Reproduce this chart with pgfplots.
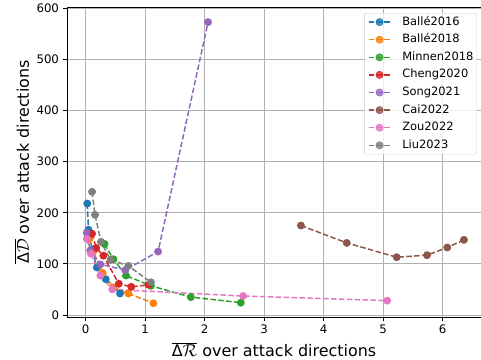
\documentclass[border=0pt]{standalone}
\usepackage{fontspec}
\setmainfont{DejaVu Sans}
\usepackage{pgfplots}
\pgfplotsset{compat=1.18}
\definecolor{c0}{HTML}{1F77B4}
\definecolor{c1}{HTML}{FF7F0E}
\definecolor{c2}{HTML}{2CA02C}
\definecolor{c3}{HTML}{D62728}
\definecolor{c4}{HTML}{9467BD}
\definecolor{c5}{HTML}{8C564B}
\definecolor{c6}{HTML}{E377C2}
\definecolor{c7}{HTML}{7F7F7F}
\begin{document}
\begin{tikzpicture}
\useasboundingbox (-67bp,-43bp) rectangle (414bp,317bp);
\begin{axis}[
  at={(0,0)}, anchor=south west,
  scale only axis, width=414bp, height=310bp,
  xmin=-0.311, xmax=6.647, ymin=-4, ymax=602.6,
  xtick={0,1,2,3,4,5,6}, ytick={0,100,200,300,400,500,600},
  grid=major, major grid style={color=black!31, line width=0.75bp},
  axis line style={line width=0.8bp},
  tick align=outside, xtick pos=left, ytick pos=left,
  major tick length=3.5bp, tick style={black, line width=0.8bp},
  tick label style={font=\fontsize{11.8}{13}\selectfont},
  /pgf/number format/assume math mode=true,
  xticklabel style={yshift=-1bp}, yticklabel style={xshift=-1bp},
  xlabel={$\overline{\mbox{Δ}\mathcal{R}}$ over attack directions},
  ylabel={$\overline{\mbox{Δ}\mathcal{D}}$ over attack directions},
  label style={font=\fontsize{16}{18}\selectfont},
  xlabel style={at={(axis description cs:0.5,-0.1065)}, anchor=center},
  ylabel style={at={(axis description cs:-0.1087,0.5)}, anchor=center, rotate=0},
  every axis plot/.append style={line width=1.5bp, dash pattern=on 5.5bp off 2.4bp, mark=*, mark size=3.6bp, mark options={solid, line width=0.6bp}},
  legend image code/.code={\draw[mark repeat=2,mark phase=2] plot coordinates {(0bp,0bp)(11bp,0bp)(22bp,0bp)};},
  legend cell align=left,
  legend style={at={(0.9903,0.9806)}, anchor=north east, draw=black!20, rounded corners=2bp, fill=white, fill opacity=0.8, text opacity=1, inner sep=3.4bp, font=\fontsize{11.5}{13}\selectfont, row sep=6.6bp, column sep=11bp, nodes={inner sep=0bp, text height=8.5bp, text depth=2.5bp}},
]
\addplot[color=c0] coordinates {(0.03,218) (0.05,167) (0.11,128) (0.19,93) (0.34,70) (0.58,42)};
\addlegendentry{Ballé2016}
\addplot[color=c1] coordinates {(0.07,150) (0.13,124) (0.29,82) (0.47,54) (0.72,42) (1.14,23)};
\addlegendentry{Ballé2018}
\addplot[color=c2] coordinates {(0.32,139) (0.47,109) (0.68,77) (1.10,57) (1.77,35) (2.61,24)};
\addlegendentry{Minnen2018}
\addplot[color=c3] coordinates {(0.11,159) (0.18,131) (0.30,116) (0.56,61) (0.77,55) (1.06,59)};
\addlegendentry{Cheng2020}
\addplot[color=c4] coordinates {(0.02,161) (0.08,126) (0.25,99) (0.67,88) (1.22,124) (2.06,573)};
\addlegendentry{Song2021}
\addplot[color=c5] coordinates {(3.62,175) (4.39,141) (5.23,113) (5.74,117) (6.08,132) (6.36,147)};
\addlegendentry{Cai2022}
\addplot[color=c6] coordinates {(0.02,149) (0.09,120) (0.25,77) (0.45,50) (2.65,37) (5.07,28)};
\addlegendentry{Zou2022}
\addplot[color=c7] coordinates {(0.11,241) (0.16,196) (0.26,143) (0.42,108) (0.72,96) (1.10,64)};
\addlegendentry{Liu2023}
\end{axis}
\end{tikzpicture}
\end{document}
